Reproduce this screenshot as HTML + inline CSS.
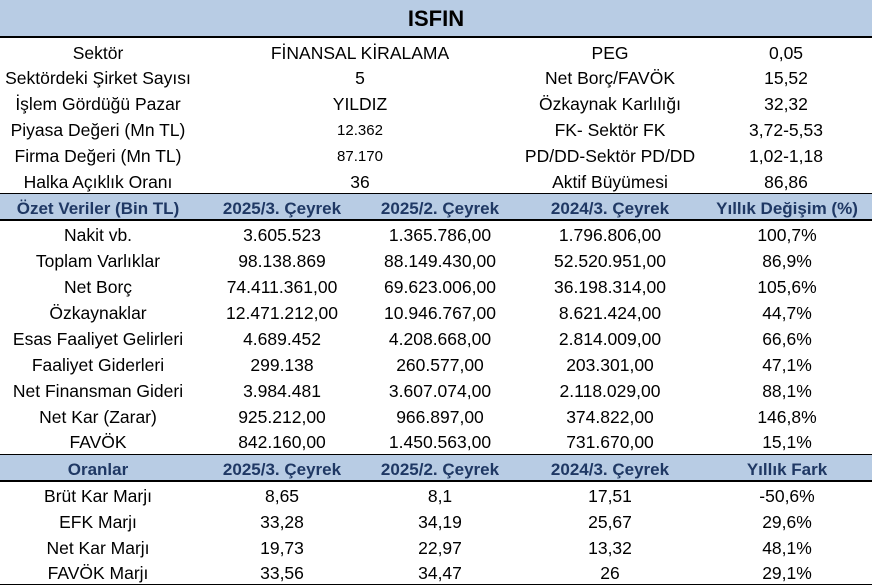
<!DOCTYPE html>
<html><head><meta charset="utf-8"><style>
body{margin:0;width:872px;height:586px;background:#fff;position:relative;overflow:hidden;font-family:"Liberation Sans",sans-serif;font-size:17.5px;color:#000}
.b{position:absolute;left:0;width:872px;background:#b8cce4}
.l{position:absolute;left:0;width:872px;background:#000}
.r{position:absolute;left:0;width:872px;height:26px;line-height:29px}
.r span{position:absolute;top:0;white-space:nowrap;transform:translateX(-50%)}
.h{color:#1f3864;font-weight:bold;font-size:17px}
.s{font-size:15px}
</style></head><body>
<div class="b" style="top:0;height:36px"></div>
<div style="position:absolute;left:0;width:872px;top:0;height:36px;line-height:38px;text-align:center;font-weight:bold;font-size:22px">ISFIN</div>
<div class="l" style="top:36px;height:2px"></div>

<div class="r" style="top:39px"><span style="left:98px">Sektör</span><span style="left:360px">FİNANSAL KİRALAMA</span><span style="left:610px">PEG</span><span style="left:786px">0,05</span></div>
<div class="r" style="top:64px"><span style="left:98px">Sektördeki Şirket Sayısı</span><span style="left:360px">5</span><span style="left:610px">Net Borç/FAVÖK</span><span style="left:786px">15,52</span></div>
<div class="r" style="top:90px"><span style="left:98px">İşlem Gördüğü Pazar</span><span style="left:360px">YILDIZ</span><span style="left:610px">Özkaynak Karlılığı</span><span style="left:786px">32,32</span></div>
<div class="r" style="top:116px"><span style="left:98px">Piyasa Değeri (Mn TL)</span><span class="s" style="left:360px">12.362</span><span style="left:610px">FK- Sektör FK</span><span style="left:786px">3,72-5,53</span></div>
<div class="r" style="top:142px"><span style="left:98px">Firma Değeri (Mn TL)</span><span class="s" style="left:360px">87.170</span><span style="left:610px">PD/DD-Sektör PD/DD</span><span style="left:786px">1,02-1,18</span></div>
<div class="r" style="top:168px"><span style="left:98px">Halka Açıklık Oranı</span><span style="left:360px">36</span><span style="left:610px">Aktif Büyümesi</span><span style="left:786px">86,86</span></div>

<div class="l" style="top:193px;height:1px"></div>
<div class="b" style="top:194px;height:25px"></div>
<div class="r h" style="top:194px;height:25px;line-height:29px"><span style="left:98px">Özet Veriler (Bin TL)</span><span style="left:282px">2025/3. Çeyrek</span><span style="left:440px">2025/2. Çeyrek</span><span style="left:610px">2024/3. Çeyrek</span><span style="left:787px">Yıllık Değişim (%)</span></div>
<div class="l" style="top:219px;height:2px"></div>

<div class="r" style="top:221px"><span style="left:98px">Nakit vb.</span><span style="left:282px">3.605.523</span><span style="left:440px">1.365.786,00</span><span style="left:610px">1.796.806,00</span><span style="left:787px">100,7%</span></div>
<div class="r" style="top:247px"><span style="left:98px">Toplam Varlıklar</span><span style="left:282px">98.138.869</span><span style="left:440px">88.149.430,00</span><span style="left:610px">52.520.951,00</span><span style="left:787px">86,9%</span></div>
<div class="r" style="top:273px"><span style="left:98px">Net Borç</span><span style="left:282px">74.411.361,00</span><span style="left:440px">69.623.006,00</span><span style="left:610px">36.198.314,00</span><span style="left:787px">105,6%</span></div>
<div class="r" style="top:299px"><span style="left:98px">Özkaynaklar</span><span style="left:282px">12.471.212,00</span><span style="left:440px">10.946.767,00</span><span style="left:610px">8.621.424,00</span><span style="left:787px">44,7%</span></div>
<div class="r" style="top:325px"><span style="left:98px">Esas Faaliyet Gelirleri</span><span style="left:282px">4.689.452</span><span style="left:440px">4.208.668,00</span><span style="left:610px">2.814.009,00</span><span style="left:787px">66,6%</span></div>
<div class="r" style="top:351px"><span style="left:98px">Faaliyet Giderleri</span><span style="left:282px">299.138</span><span style="left:440px">260.577,00</span><span style="left:610px">203.301,00</span><span style="left:787px">47,1%</span></div>
<div class="r" style="top:377px"><span style="left:98px">Net Finansman Gideri</span><span style="left:282px">3.984.481</span><span style="left:440px">3.607.074,00</span><span style="left:610px">2.118.029,00</span><span style="left:787px">88,1%</span></div>
<div class="r" style="top:403px"><span style="left:98px">Net Kar (Zarar)</span><span style="left:282px">925.212,00</span><span style="left:440px">966.897,00</span><span style="left:610px">374.822,00</span><span style="left:787px">146,8%</span></div>
<div class="r" style="top:428px"><span style="left:98px">FAVÖK</span><span style="left:282px">842.160,00</span><span style="left:440px">1.450.563,00</span><span style="left:610px">731.670,00</span><span style="left:787px">15,1%</span></div>

<div class="l" style="top:454px;height:1px"></div>
<div class="b" style="top:455px;height:26px"></div>
<div class="r h" style="top:455px;height:26px;line-height:29px"><span style="left:98px">Oranlar</span><span style="left:282px">2025/3. Çeyrek</span><span style="left:440px">2025/2. Çeyrek</span><span style="left:610px">2024/3. Çeyrek</span><span style="left:787px">Yıllık Fark</span></div>
<div class="l" style="top:480px;height:2px"></div>

<div class="r" style="top:482px"><span style="left:98px">Brüt Kar Marjı</span><span style="left:282px">8,65</span><span style="left:440px">8,1</span><span style="left:610px">17,51</span><span style="left:787px">-50,6%</span></div>
<div class="r" style="top:508px"><span style="left:98px">EFK Marjı</span><span style="left:282px">33,28</span><span style="left:440px">34,19</span><span style="left:610px">25,67</span><span style="left:787px">29,6%</span></div>
<div class="r" style="top:534px"><span style="left:98px">Net Kar Marjı</span><span style="left:282px">19,73</span><span style="left:440px">22,97</span><span style="left:610px">13,32</span><span style="left:787px">48,1%</span></div>
<div class="r" style="top:559px"><span style="left:98px">FAVÖK Marjı</span><span style="left:282px">33,56</span><span style="left:440px">34,47</span><span style="left:610px">26</span><span style="left:787px">29,1%</span></div>
<div class="l" style="top:584px;height:1px"></div>
</body></html>
